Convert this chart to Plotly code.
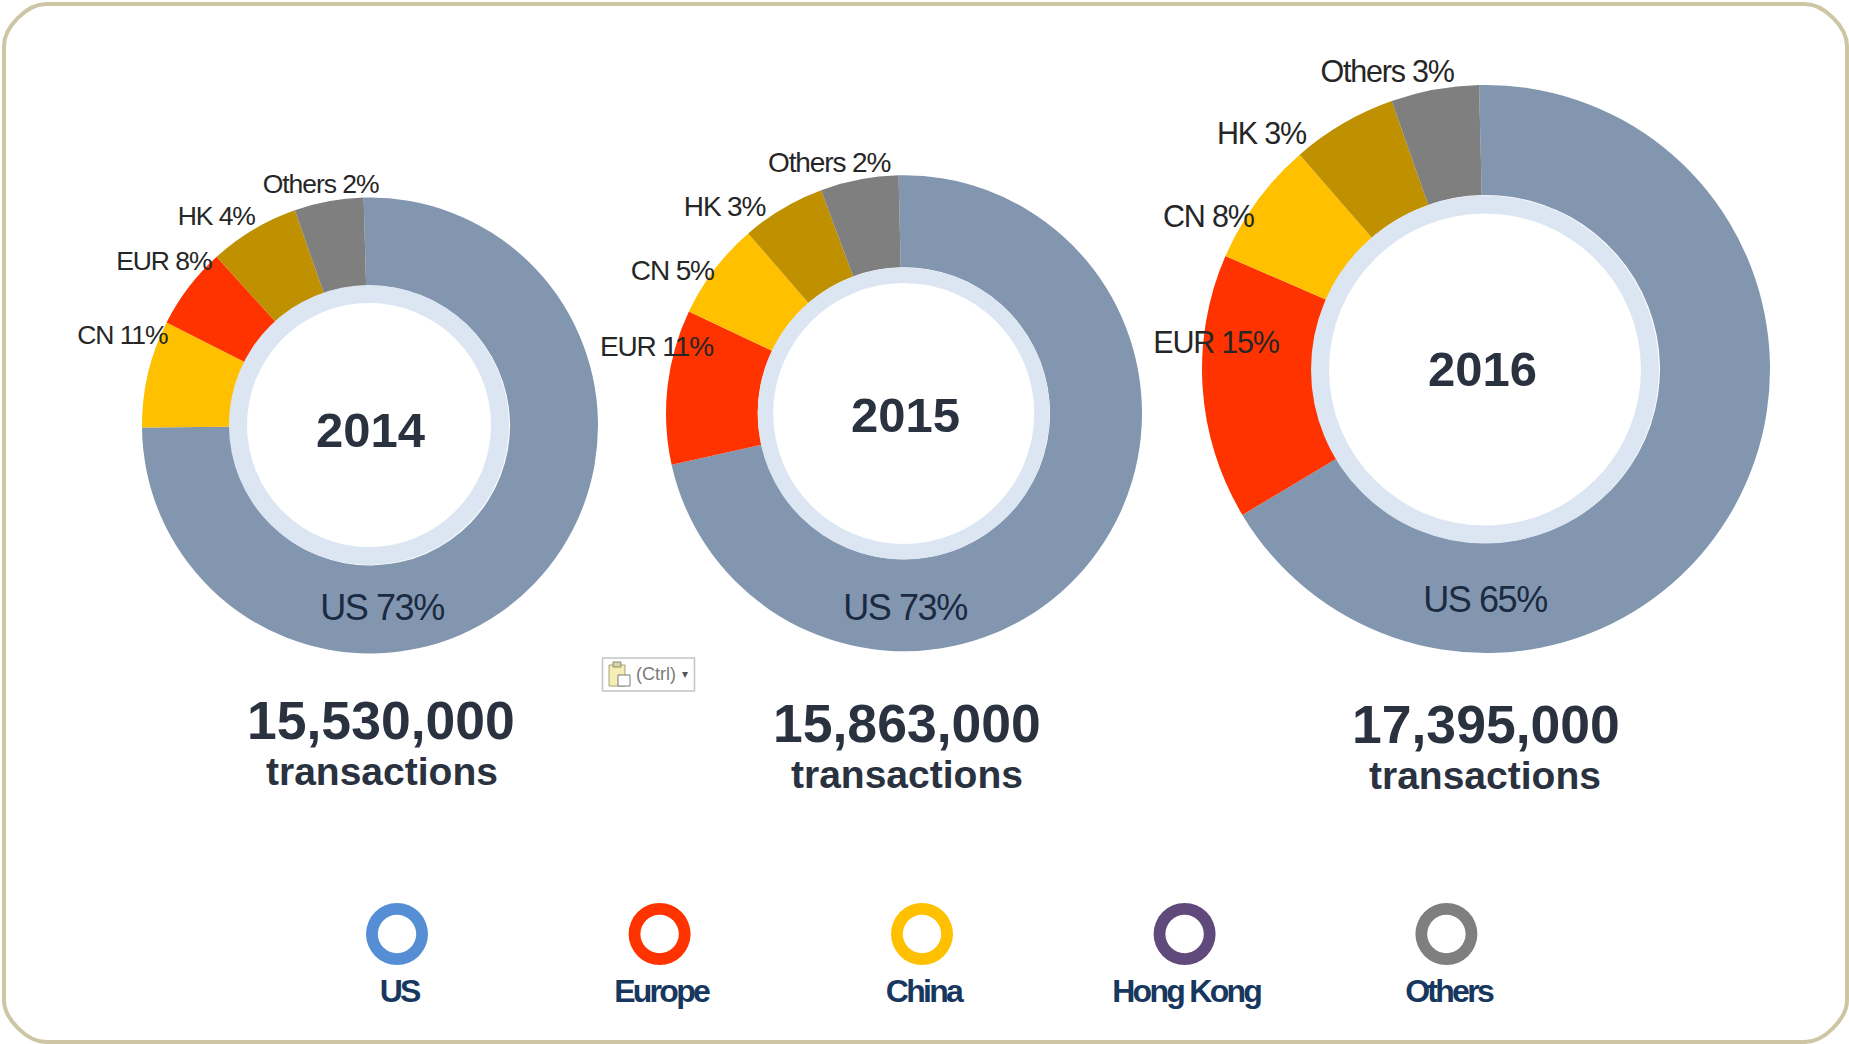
import plotly.graph_objects as go

W, H = 1849, 1044

# ---------- data ----------
YEARS = ["2014", "2015", "2016"]
TOTALS = ["15,530,000", "15,863,000", "17,395,000"]
TOTAL_UNIT = "transactions"

CATEGORIES_2014 = ["US", "CN", "EUR", "HK", "Others"]
CATEGORIES_2015 = ["US", "EUR", "CN", "HK", "Others"]
CATEGORIES_2016 = ["US", "EUR", "CN", "HK", "Others"]

# arc shares as drawn in the picture
SHARES_2014 = [75.3, 7.6, 5.8, 6.4, 4.9]
SHARES_2015 = [71.9, 10.5, 6.6, 5.7, 5.3]
SHARES_2016 = [66.8, 15.1, 7.1, 6.0, 5.0]

# percentages as printed on the labels
PRINTED_2014 = [73, 11, 8, 4, 2]
PRINTED_2015 = [73, 11, 5, 3, 2]
PRINTED_2016 = [65, 15, 8, 3, 3]

LEGEND_NAMES = ["US", "Europe", "China", "Hong Kong", "Others"]

# ---------- styles and layout ----------
SLICE_COLORS = {"US": "#8296B0", "EUR": "#FF3300", "CN": "#FFC000",
                "HK": "#BF9000", "Others": "#7F7F7F"}
LEGEND_COLORS = ["#558ED5", "#FF3300", "#FFC000", "#604A7B", "#7F7F7F"]
RING_COLOR = "#DCE6F2"
BORDER_COLOR = "#CCC6A4"
DARK = "#2A3240"
LABEL_DARK = "#262626"
NAVY = "#17375E"
SANS = "Liberation Sans, Arial, sans-serif"


def fx(px):
    return px / W


def fy(py):
    return 1 - py / H


def domain(cx, cy, r):
    return dict(x=[fx(cx - r), fx(cx + r)], y=[fy(cy + r), fy(cy - r)])


def text(s, x, y, size, color, bold=False, family=SANS):
    return dict(text=f"<b>{s}</b>" if bold else s, x=fx(x), y=fy(y),
                xref="paper", yref="paper", xanchor="center", yanchor="middle",
                showarrow=False, font=dict(family=family, size=size, color=color))


DONUTS = [
    dict(cx=370, cy=425.5, r=228, rotation=-1.6, ring=(369, 425, 140, 122),
         year_xy=(370, 429.5), total_xy=(381, 720.5), unit_xy=(381.5, 771),
         label_size=26.5, us_size=36,
         label_xy=[(381.5, 607.5), (122, 335), (164, 261), (215.6, 215.5), (320.4, 184)]),
    dict(cx=904, cy=413.3, r=238, rotation=-1.3, ring=(903.7, 413.5, 146, 130.5),
         year_xy=(905.6, 414.6), total_xy=(906.5, 723.7), unit_xy=(906.8, 774),
         label_size=28, us_size=36,
         label_xy=[(904.5, 607.7), (656, 346.5), (672, 270.6), (724, 206.6), (828.8, 163)]),
    dict(cx=1486, cy=369, r=284, rotation=-1.4, ring=(1485, 369.5, 174, 156),
         year_xy=(1482.7, 369), total_xy=(1485.7, 724), unit_xy=(1484.6, 775),
         label_size=30.5, us_size=36,
         label_xy=[(1485, 599.7), (1216, 341.5), (1208, 216), (1261, 132.5), (1386.7, 70.6)]),
]
LEGEND_X = [397, 659.6, 922, 1184.6, 1446.4]
LEGEND_LABEL_X = [399, 661.4, 923.7, 1186, 1448.8]
LEGEND_Y, LEGEND_LABEL_Y, LEGEND_R, LEGEND_HOLE = 934, 990.7, 31, 0.62

# ---------- figure ----------
fig = go.Figure()
annotations = []

series = zip(DONUTS, YEARS, TOTALS,
             [CATEGORIES_2014, CATEGORIES_2015, CATEGORIES_2016],
             [SHARES_2014, SHARES_2015, SHARES_2016],
             [PRINTED_2014, PRINTED_2015, PRINTED_2016])

for d, year, total, cats, shares, printed in series:
    rx, ry, ro, ri = d["ring"]
    fig.add_trace(go.Pie(
        labels=cats, values=shares, sort=False, direction="clockwise",
        rotation=d["rotation"], hole=ro / d["r"], domain=domain(d["cx"], d["cy"], d["r"]),
        marker=dict(colors=[SLICE_COLORS[c] for c in cats], line=dict(width=0)),
        textinfo="none", hoverinfo="skip", showlegend=False))
    fig.add_trace(go.Pie(
        values=[1], hole=ri / ro, domain=domain(rx, ry, ro), sort=False,
        marker=dict(colors=[RING_COLOR], line=dict(width=0)),
        textinfo="none", hoverinfo="skip", showlegend=False))
    for i, (c, p) in enumerate(zip(cats, printed)):
        size = d["us_size"] if c == "US" else d["label_size"]
        color = "#1B2A40" if c == "US" else LABEL_DARK
        annotations.append(text(f"{c} {p}%", *d["label_xy"][i], size, color))
    annotations.append(text(year, *d["year_xy"], 49, DARK, bold=True))
    annotations.append(text(total, *d["total_xy"], 53.5, DARK, bold=True))
    annotations.append(text(TOTAL_UNIT, *d["unit_xy"], 39, DARK, bold=True))

for x, lx, name, color in zip(LEGEND_X, LEGEND_LABEL_X, LEGEND_NAMES, LEGEND_COLORS):
    fig.add_trace(go.Pie(
        values=[1], hole=LEGEND_HOLE, domain=domain(x, LEGEND_Y, LEGEND_R), sort=False,
        marker=dict(colors=[color], line=dict(width=0)),
        textinfo="none", hoverinfo="skip", showlegend=False))
    annotations.append(text(name, lx, LEGEND_LABEL_Y, 32, NAVY, bold=True))

# rounded frame
x0, y0, x1, y1, rad = 4, 4, 1847, 1042, 42
kappa = 0.45 * rad
corner = lambda a, b, c, d_, e, f: f"C {fx(a)} {fy(b)} {fx(c)} {fy(d_)} {fx(e)} {fy(f)}"
frame = (f"M {fx(x0 + rad)} {fy(y0)} L {fx(x1 - rad)} {fy(y0)} "
         + corner(x1 - rad + kappa, y0, x1, y0 + rad - kappa, x1, y0 + rad)
         + f" L {fx(x1)} {fy(y1 - rad)} "
         + corner(x1, y1 - rad + kappa, x1 - rad + kappa, y1, x1 - rad, y1)
         + f" L {fx(x0 + rad)} {fy(y1)} "
         + corner(x0 + rad - kappa, y1, x0, y1 - rad + kappa, x0, y1 - rad)
         + f" L {fx(x0)} {fy(y0 + rad)} "
         + corner(x0, y0 + rad - kappa, x0 + rad - kappa, y0, x0 + rad, y0) + " Z")


def rect(a, b, c, d_, fill, line="rgba(0,0,0,0)", lw=1):
    return dict(type="rect", xref="paper", yref="paper", x0=fx(a), x1=fx(c), y0=fy(b), y1=fy(d_),
                fillcolor=fill, line=dict(color=line, width=lw), layer="above")


shapes = [
    dict(type="path", xref="paper", yref="paper", path=frame,
         line=dict(color=BORDER_COLOR, width=4), layer="above"),
    # paste-options button with its clipboard icon
    rect(602.5, 658, 694.5, 691, "#FFFFFF", "#C4C4C4", 1.5),
    rect(609, 665, 625, 686, "#F4EDB4", "#A8A27A", 1),
    rect(613, 662, 621, 667, "#D8D2A4", "#8C8C78", 1),
    rect(618, 675, 630, 686, "#FFFFFF", "#7A7A7A", 1),
]
annotations.append(text("(Ctrl)", 656, 674, 18, "#7A7A7A"))
annotations.append(text("▾", 685, 674, 12, "#555555"))

fig.update_layout(
    width=W, height=H, autosize=False, margin=dict(l=0, r=0, t=0, b=0, pad=0),
    paper_bgcolor="white", plot_bgcolor="white", showlegend=False,
    annotations=annotations, shapes=shapes)

# The reference's labels are set tight; Plotly has no letter-spacing option for annotations.
TIGHT_JS = """
document.body.style.margin='0';document.body.style.overflow='hidden';
var legendNames=%s;
document.querySelectorAll('.annotation-text').forEach(function(t){
  var s=t.textContent;
  if(legendNames.indexOf(s)>=0){t.style.letterSpacing='-0.085em';}
  else if(/^[A-Za-z]+ \\d+%%$/.test(s)){t.style.letterSpacing='-0.04em';}
});
""" % (LEGEND_NAMES,)

fig.write_html("out.html", config=dict(displayModeBar=False), post_script=TIGHT_JS)
